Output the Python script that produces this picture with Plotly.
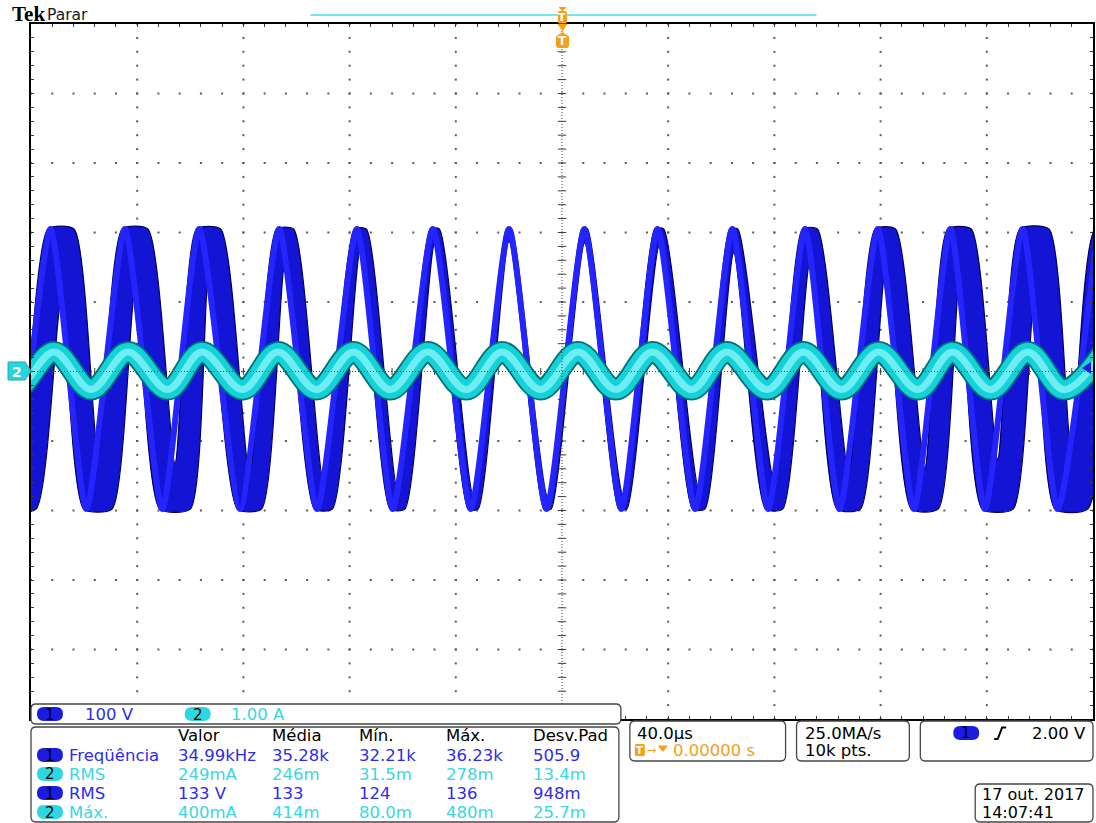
import numpy as np
import plotly.graph_objects as go

W, H = 1096, 823
PL, PR, PT, PB = 31, 1095, 24, 719          # graticule edges (px)

# ---- scales: 40 µs/div horizontally, 100 V/div (CH1) and 1.00 A/div (CH2), 10 x 10 div
T_RANGE = [-200, 200]
V_RANGE = [-500, 500]
A_RANGE = [-5, 5]

# ---- CH1 (voltage), persisted trace: each extremum spreads between an early and a late time (µs)
ch1_peak_early = [-222.2, -193.6, -165.6, -137.6, -107.5, -78.2, -49.6, -20.9,
                  7.5, 35.0, 63.2, 90.6, 118.0, 145.3, 172.5, 200.8]
ch1_peak_late = [-211.7, -183.8, -156.0, -128.6, -101.1, -73.7, -46.2, -19.0,
                 9.6, 38.3, 66.2, 96.2, 125.6, 154.1, 183.4, 212.4]
ch1_trough_early = [-208.6, -180.1, -151.5, -122.2, -93.2, -64.7, -35.3, -6.8,
                    21.4, 49.2, 76.7, 103.6, 131.6, 158.3, 185.7]
ch1_trough_late = [-198.1, -169.5, -140.0, -113.2, -86.5, -59.2, -31.6, -4.1,
                   24.4, 53.8, 83.1, 112.4, 141.7, 169.9, 198.0]
ch1_peak_v = 205.0
ch1_trough_v = -198.0
# inner edge of the band under each peak / over each trough (V)
ch1_peak_inner_v = [82.7, 99.9, 116.5, 135.9, 156.1, 174.8, 184.9, 187.7,
                    184.9, 180.5, 170.5, 157.5, 143.1, 125.9, 107.2, 89.9]
ch1_trough_inner_v = [-97.3, -116.0, -131.8, -146.2, -157.7, -170.7, -177.9, -179.3,
                      -176.4, -167.8, -157.7, -146.2, -139.0, -126.1, -116.0]

# ---- CH2 (current) extrema times (µs) and levels (A)
ch2_peak_t = [-219.9, -191.4, -163.5, -135.7, -107.0, -78.6, -50.6, -22.6,
              6.0, 34.0, 62.0, 90.8, 119.2, 147.0, 175.4, 203.8]
ch2_trough_t = [-206.0, -177.4, -148.5, -120.3, -92.5, -64.7, -36.1, -8.1,
                20.3, 48.9, 77.3, 105.3, 134.0, 161.4, 189.1]
ch2_peak_a = 0.28
ch2_trough_a = -0.26

# ---- readouts
ch_scale = [("1", "100 V"), ("2", "1.00 A")]
meas_headers = ["Valor", "Média", "Mín.", "Máx.", "Desv.Pad"]
meas_rows = [
    ("1", "Freqüência", ["34.99kHz", "35.28k", "32.21k", "36.23k", "505.9"]),
    ("2", "RMS", ["249mA", "246m", "31.5m", "278m", "13.4m"]),
    ("1", "RMS", ["133 V", "133", "124", "136", "948m"]),
    ("2", "Máx.", ["400mA", "414m", "80.0m", "480m", "25.7m"]),
]
timebase = "40.0µs"
trig_pos = "0.00000 s"
sample_rate = "25.0MA/s"
rec_len = "10k pts."
trig_level = "2.00 V"
date_str = "17 out. 2017"
time_str = "14:07:41"

CH1_BADGE = "rgb(28,28,225)"
CH1_TEXT = "rgb(45,45,232)"
CH2_BADGE = "rgb(45,215,225)"
CH2_TEXT = "rgb(55,215,228)"
ORANGE = "rgb(245,160,25)"
FONT = "DejaVu Sans"
SMOOTH = 0.6


def px(x):
    return (x - PL) / (PR - PL)


def py(y):
    return (PB - y) / (PB - PT)


def rrect(x0, y0, x1, y1, r):
    return (f"M {px(x0 + r)},{py(y0)} L {px(x1 - r)},{py(y0)} "
            f"Q {px(x1)},{py(y0)} {px(x1)},{py(y0 + r)} L {px(x1)},{py(y1 - r)} "
            f"Q {px(x1)},{py(y1)} {px(x1 - r)},{py(y1)} L {px(x0 + r)},{py(y1)} "
            f"Q {px(x0)},{py(y1)} {px(x0)},{py(y1 - r)} L {px(x0)},{py(y0 + r)} "
            f"Q {px(x0)},{py(y0)} {px(x0 + r)},{py(y0)} Z")


def poly(points):
    return "M " + " L ".join(f"{px(a)},{py(b)}" for a, b in points) + " Z"


fig = go.Figure()

# ---- graticule dots (major lines dotted at minor intervals)
minor_t = np.arange(-200, 200.1, 8)
minor_v = np.arange(-500, 500.1, 20)
major_t = [t for t in np.arange(-160, 160.1, 40) if t != 0]
major_v = [v for v in np.arange(-400, 400.1, 100) if v != 0]
gx, gy = [], []
for v in major_v:
    gx += list(minor_t); gy += [v] * len(minor_t)
for t in major_t:
    gx += [t] * len(minor_v); gy += list(minor_v)
fig.add_trace(go.Scatter(x=gx, y=gy, mode="markers", hoverinfo="skip",
                         marker=dict(symbol="square", size=2, color="rgb(90,90,90)",
                                     line=dict(width=0))))

# ---- CH1 band: lower boundary, then upper boundary filled down to it
pe, pl = ch1_peak_early, ch1_peak_late
te, tl = ch1_trough_early, ch1_trough_late
lo_x, lo_y, up_x, up_y = [], [], [], []
for i in range(len(pe)):
    lo_x.append((pe[i] + pl[i]) / 2); lo_y.append(ch1_peak_inner_v[i])
    up_x += [pe[i], pl[i]]; up_y += [ch1_peak_v, ch1_peak_v]
    if i < len(te):
        lo_x += [te[i], tl[i]]; lo_y += [ch1_trough_v, ch1_trough_v]
        up_x.append((te[i] + tl[i]) / 2); up_y.append(ch1_trough_inner_v[i])

EDGE = dict(color="rgb(0,0,90)", width=1.2, shape="spline", smoothing=SMOOTH)
fig.add_trace(go.Scatter(x=lo_x, y=lo_y, mode="lines", line=EDGE, hoverinfo="skip"))
fig.add_trace(go.Scatter(x=up_x, y=up_y, mode="lines", line=EDGE, hoverinfo="skip",
                         fill="tonexty", fillcolor="rgb(20,20,212)"))

# brighter leading copy of the trace
off = min([l - e for e, l in zip(pe, pl)]) / 2
cx, cy = [], []
for i in range(len(pe)):
    cx.append(pe[i] + off); cy.append(ch1_peak_v)
    if i < len(te):
        cx.append(te[i] + off); cy.append(ch1_trough_v)
fig.add_trace(go.Scatter(x=cx, y=cy, mode="lines", hoverinfo="skip",
                         line=dict(color="rgb(36,36,255)", width=6, shape="spline",
                                   smoothing=SMOOTH)))

# ---- CH2 current trace
c2x, c2y = [], []
for i in range(len(ch2_peak_t)):
    c2x.append(ch2_peak_t[i]); c2y.append(ch2_peak_a)
    if i < len(ch2_trough_t):
        c2x.append(ch2_trough_t[i]); c2y.append(ch2_trough_a)
for color, width in (("rgb(0,112,118)", 22), ("rgb(20,210,216)", 18.5),
                     ("rgb(110,238,242)", 7)):
    fig.add_trace(go.Scatter(x=c2x, y=c2y, yaxis="y2", mode="lines",
                             hoverinfo="skip",
                             line=dict(color=color, width=width, shape="spline",
                                       smoothing=1.0)))

# ---- centre crosshair ticks
fig.add_trace(go.Scatter(x=[0] * len(minor_v), y=minor_v, mode="markers",
                         hoverinfo="skip",
                         marker=dict(symbol="line-ew", size=6,
                                     line=dict(color="rgb(60,60,60)", width=1))))
fig.add_trace(go.Scatter(x=minor_t, y=[0] * len(minor_t), mode="markers",
                         hoverinfo="skip",
                         marker=dict(symbol="line-ns", size=5,
                                     line=dict(color="rgb(60,60,60)", width=1))))

shapes = []
# centre dotted lines
shapes.append(dict(type="line", xref="x", yref="paper", x0=0, x1=0, y0=0, y1=1,
                   line=dict(color="rgb(60,60,60)", width=1, dash="1px,2px")))
shapes.append(dict(type="line", xref="paper", yref="y", x0=0, x1=1, y0=0, y1=0,
                   line=dict(color="rgb(60,60,60)", width=1, dash="1px,2px")))

# top record bar
shapes.append(dict(type="line", xref="paper", yref="paper", x0=px(311), x1=px(818),
                   y0=py(15), y1=py(15), line=dict(color="rgb(115,232,236)", width=2)))
# trigger markers
shapes.append(dict(type="path", xref="paper", yref="paper",
                   path=poly([(559.5, 7), (567.5, 7), (563.5, 11.5)]),
                   fillcolor=ORANGE, line=dict(width=0)))
shapes.append(dict(type="path", xref="paper", yref="paper",
                   path=rrect(559, 11, 568, 23.5, 1.5), fillcolor=ORANGE,
                   line=dict(width=0)))
shapes.append(dict(type="path", xref="paper", yref="paper",
                   path=poly([(558.5, 24), (568.5, 24), (563.5, 31.5)]),
                   fillcolor=ORANGE, line=dict(width=0)))
shapes.append(dict(type="path", xref="paper", yref="paper",
                   path=poly([(563.5, 32), (570, 36.5), (570, 46), (568.5, 48),
                              (558.5, 48), (557, 46), (557, 36.5)]),
                   fillcolor=ORANGE, line=dict(width=0)))
# CH2 ground marker
shapes.append(dict(type="path", xref="paper", yref="paper",
                   path=poly([(8, 362), (25, 362), (31, 371), (25, 380), (8, 380)]),
                   fillcolor="rgb(40,212,222)", line=dict(color="rgb(25,170,180)", width=1)))
# trigger level arrow
shapes.append(dict(type="path", xref="paper", yref="paper",
                   path=poly([(1084, 368), (1093, 362), (1093, 374)]),
                   fillcolor="rgb(30,30,228)", line=dict(width=0)))

# readout boxes
BOX = dict(color="rgb(70,70,70)", width=1.3)
for (x0, y0, x1, y1) in [(31, 704, 622, 724), (31, 727, 620, 822),
                         (631, 721, 787, 761), (798, 721, 911, 761),
                         (922, 721, 1095, 761), (977, 784, 1095, 822)]:
    shapes.append(dict(type="path", xref="paper", yref="paper",
                       path=rrect(x0, y0, x1, y1, 5), fillcolor="white", line=BOX))

annotations = []


def ann(text, x, y, color="black", size=16.5, xanchor="left", family=FONT):
    annotations.append(dict(text=text, x=px(x), y=py(y), xref="paper", yref="paper",
                            xanchor=xanchor, yanchor="middle", showarrow=False,
                            font=dict(family=family, size=size, color=color),
                            borderpad=0))


def badge(ch, xc, yc):
    fill = CH1_BADGE if ch == "1" else CH2_BADGE
    shapes.append(dict(type="path", xref="paper", yref="paper",
                       path=rrect(xc - 13, yc - 7, xc + 13, yc + 7, 7),
                       fillcolor=fill, line=dict(width=0)))
    ann(ch, xc, yc + 0.5, "black", 15, "center")


# header
ann("<b>Tek</b>", 11, 14, "black", 21, family="Liberation Serif")
ann("Parar", 46, 15, "rgb(25,25,25)", 15.5)

# markers text
ann("<b>T</b>", 563.5, 17.5, "white", 11, "center")
ann("<b>T</b>", 563.5, 41, "white", 12, "center")
ann("<b>2</b>", 17, 371.5, "white", 14, "center")

# channel scale box
badge("1", 50, 714)
ann(ch_scale[0][1], 84, 714, CH1_TEXT)
badge("2", 198, 714)
ann(ch_scale[1][1], 230, 714, CH2_TEXT)

# measurement table
col_x = [177, 271, 359, 446, 533]
for cx_, h in zip(col_x, meas_headers):
    ann(h, cx_, 736, "black")
for r, (ch, name, vals) in enumerate(meas_rows):
    yy = 755 + r * 19
    col = CH1_TEXT if ch == "1" else CH2_TEXT
    badge(ch, 50, yy)
    ann(name, 68, yy, col)
    for cx_, v in zip(col_x, vals):
        ann(v, cx_, yy, col)

# timebase box
ann(timebase, 637, 733, "black")
shapes.append(dict(type="path", xref="paper", yref="paper",
                   path=rrect(636, 744, 646, 756, 1.5), fillcolor=ORANGE,
                   line=dict(width=0)))
ann("<b>T</b>", 641, 750, "white", 10, "center")
ann("→", 647, 750, ORANGE, 11)
shapes.append(dict(type="path", xref="paper", yref="paper",
                   path=poly([(659, 745.5), (669, 745.5), (664, 752)]),
                   fillcolor=ORANGE, line=dict(width=0)))
ann(trig_pos, 673, 750, ORANGE)

# acquisition box
ann(sample_rate, 805, 733, "black")
ann(rec_len, 805, 750, "black")

# trigger box
badge("1", 968, 733)
shapes.append(dict(type="path", xref="paper", yref="paper",
                   path=f"M {px(996)},{py(739)} L {px(999.5)},{py(739)} "
                        f"L {px(1004)},{py(727.5)} L {px(1008)},{py(727.5)}",
                   line=dict(color="black", width=2)))
ann(trig_level, 1033, 733, "black")

# date / time
ann(date_str, 983, 794, "black", 16)
ann(time_str, 983, 813, "black", 16)

fig.update_layout(
    width=W, height=H,
    margin=dict(l=PL, r=W - PR, t=PT, b=H - PB, pad=0),
    paper_bgcolor="white", plot_bgcolor="white",
    showlegend=False,
    xaxis=dict(range=T_RANGE, showgrid=False, zeroline=False, showticklabels=False,
               ticks="inside", ticklen=3, tickcolor="rgb(60,60,60)", tickwidth=1,
               tick0=0, dtick=8, showline=True, linecolor="black", linewidth=1.5,
               mirror="ticks", fixedrange=True),
    yaxis=dict(range=V_RANGE, showgrid=False, zeroline=False, showticklabels=False,
               ticks="inside", ticklen=3, tickcolor="rgb(60,60,60)", tickwidth=1,
               tick0=0, dtick=20, showline=True, linecolor="black", linewidth=1.5,
               mirror="ticks", fixedrange=True),
    yaxis2=dict(range=A_RANGE, overlaying="y", visible=False, fixedrange=True),
    shapes=shapes,
    annotations=annotations,
)

fig.write_html("out.html")
